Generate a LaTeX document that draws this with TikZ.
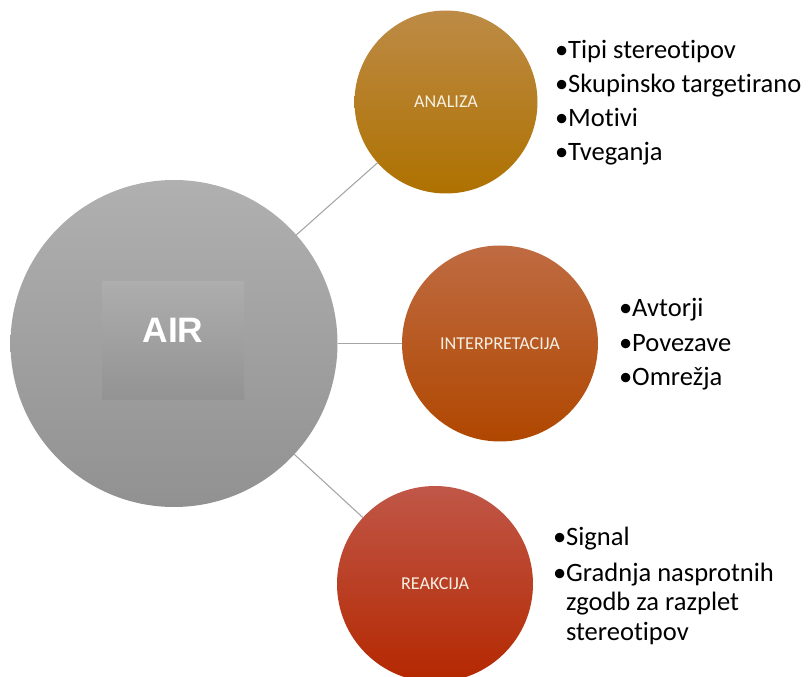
\documentclass[tikz,border=0pt]{standalone}
\usepackage{fontspec}
\setmainfont{Carlito}[Ligatures={NoCommon,NoRare,NoContextual}]
\newfontfamily\arialfont{Liberation Sans}
\newcommand{\tI}{t\kern0pt i}
\definecolor{gtop}{RGB}{176,176,176}
\definecolor{gbot}{RGB}{145,145,145}
\definecolor{rtop}{RGB}{173,173,173}
\definecolor{rbot}{RGB}{147,147,147}
\definecolor{atop}{RGB}{189,139,70}
\definecolor{abot}{RGB}{174,113,0}
\definecolor{itop}{RGB}{191,107,66}
\definecolor{ibot}{RGB}{176,71,0}
\definecolor{ktop}{RGB}{192,87,72}
\definecolor{kbot}{RGB}{180,40,0}
\definecolor{cream}{RGB}{245,240,228}
\definecolor{linegray}{RGB}{165,165,165}
\tikzset{
  bubble/.style={circle, inner sep=0pt, outer sep=0pt, text=cream, font=\fontsize{13.6pt}{16pt}\selectfont},
  item/.style={anchor=base west, inner sep=0pt, outer sep=0pt, text=black, font=\fontsize{19.9pt}{23pt}\selectfont},
  link/.style={draw=linegray, line width=0.8pt}
}
\begin{document}
\begin{tikzpicture}[x=0.75pt, y=-0.75pt]
\useasboundingbox (0,0) rectangle (808,677);
% big circle
\node[circle, inner sep=0pt, outer sep=0pt, minimum size=245.25pt, top color=gtop, bottom color=gbot] (air) at (174,343.5) {};
\node[rectangle, inner sep=0pt, outer sep=0pt, minimum width=106.5pt, minimum height=88.5pt, top color=rtop, bottom color=rbot] (airbox) at (173,341) {};
\node[anchor=base, inner sep=0pt, text=white, font=\arialfont\bfseries\fontsize{26.5pt}{30pt}\selectfont] (airtxt) at (173,342.5) {AIR};
% small circles
\node[bubble, minimum size=137.25pt, top color=atop, bottom color=abot] (ana) at (446,102) {ANALIZA};
\node[bubble, minimum size=147pt, top color=itop, bottom color=ibot] (int) at (500,343.5) {INTERPRETACIJA};
\node[bubble, minimum size=147pt, top color=ktop, bottom color=kbot] (rea) at (435,584) {REAKCIJA};
% connectors
\draw[link] (air) -- (ana);
\draw[link] (air) -- (int);
\draw[link] (air) -- (rea);
% lists
\node[item] (a1) at (555,59) {•Tipi stereo\tI pov};
\node[item] (a2) at (555,93) {•Skupinsko targe\tI rano};
\node[item] (a3) at (555,127) {•Mo\tI vi};
\node[item] (a4) at (555,161) {•Tveganja};
\node[item] (i1) at (619,317) {•Avtorji};
\node[item] (i2) at (619,351.5) {•Povezave};
\node[item] (i3) at (619,386) {•Omrežja};
\node[item] (r1) at (553,546) {•Signal};
\node[item] (r2) at (553,582) {•Gradnja nasprotnih};
\node[item] (r3) at (566,611) {zgodb za razplet};
\node[item] (r4) at (566,640) {stereo\tI pov};
\end{tikzpicture}
\end{document}
